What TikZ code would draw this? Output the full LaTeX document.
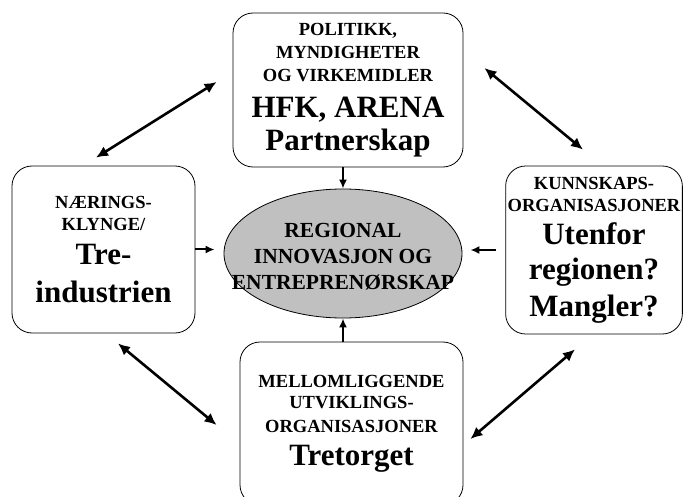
\documentclass[tikz,border=0pt]{standalone}
\usepackage{fontspec}
\setmainfont{Liberation Serif}
\newfontfamily\diagfont{Liberation Serif}
\usepackage{tikz}
\usetikzlibrary{arrows.meta, calc, shapes.geometric}
\definecolor{hubgray}{RGB}{192,192,192}
\newcommand{\boxcaps}{\diagfont\fontsize{18.5}{22}\selectfont\bfseries\lineskiplimit=-\maxdimen}
\newcommand{\boxbig}{\diagfont\fontsize{31}{33}\selectfont\bfseries}
\newcommand{\hubcaps}{\diagfont\fontsize{21.5}{26}\selectfont\bfseries\lineskiplimit=-\maxdimen}

\begin{document}
\begin{tikzpicture}[x=1pt, y=-1pt,
  box/.style={draw, rounded corners=20pt, line width=0.8pt, align=center,
              inner sep=2pt, font=\boxcaps},
  hub/.style={draw, ellipse, fill=hubgray, line width=0.8pt},
  arr/.style={-{Latex[length=9pt,width=8pt]}, line width=2pt},
  dbl/.style={{Latex[length=12pt,width=11pt]}-{Latex[length=12pt,width=11pt]}, line width=2.6pt}]
  \useasboundingbox (0,0) rectangle (683,497);
  % centre
  \node[hub, minimum width=238pt, minimum height=129pt] (reg) at (343,253.5) {};
  \node[font=\hubcaps, align=center] (regtxt) at ($(reg.center)+(0,3)$) {REGIONAL\\INNOVASJON OG\\ENTREPRENØRSKAP};
  % actors
  \node[box, minimum width=230pt, minimum height=154pt] (pol) at (348,90)
    {POLITIKK,\\[1pt] MYNDIGHETER\\[1pt] OG VIRKEMIDLER\\[14pt] \boxbig HFK, ARENA\\[11pt] \boxbig Partnerskap};
  \node[box, minimum width=183pt, minimum height=167pt] (ind) at (103.5,249.5)
    {NÆRINGS-\\[0pt] KLYNGE/\\[12pt] \boxbig Tre-\\[16pt] \boxbig industrien};
  \node[box, minimum width=174pt, minimum height=168pt] (kun) at (594,250)
    {KUNNSKAPS-\\ ORGANISASJONER\\[11pt] \boxbig Utenfor\\[13pt] \boxbig regionen?\\[15pt] \boxbig Mangler?};
  \node[box, minimum width=223pt, minimum height=163pt] (mel) at (351.5,423.5)
    {MELLOMLIGGENDE\\[-1pt] UTVIKLINGS-\\[2pt] ORGANISASJONER\\[11pt] \boxbig Tretorget};
  % into the centre
  \draw[arr] (reg.north |- pol.south) -- (reg.north);
  \draw[arr] (reg.south |- mel.north) -- (reg.south);
  \draw[arr, shorten >=9pt] (ind.east) -- (ind.east -| reg.west);
  \draw[arr, shorten <=9pt, shorten >=8pt] (kun.west) -- (kun.west -| reg.east);
  % between actors
  \draw[dbl] ($(pol.west)+(-16,-8)$) -- ($(ind.north)+(-7.5,-8)$);
  \draw[dbl] ($(pol.east)+(21,-22)$) -- ($(kun.north)+(-11,-16)$);
  \draw[dbl] ($(ind.south)+(14.5,10)$) -- ($(mel.west)+(-23,1.5)$);
  \draw[dbl] ($(kun.south)+(-19,15)$) -- ($(mel.east)+(7,15.5)$);
\end{tikzpicture}
\end{document}
